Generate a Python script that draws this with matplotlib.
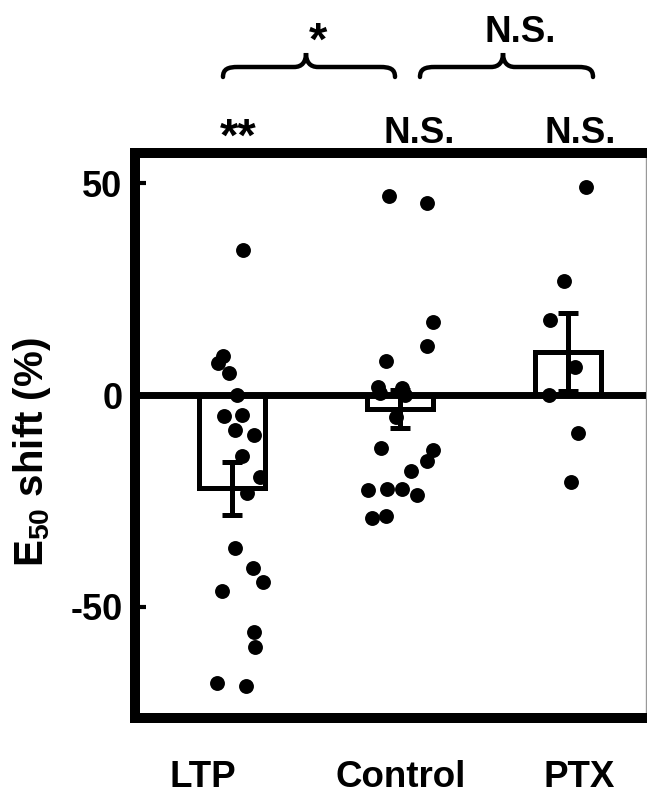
import numpy as np
import matplotlib.pyplot as plt
from matplotlib.path import Path
from matplotlib.patches import PathPatch

plt.rcParams['font.family'] = 'Liberation Sans'
plt.rcParams['font.weight'] = 'bold'
plt.rcParams['axes.unicode_minus'] = False
plt.rcParams['mathtext.fontset'] = 'custom'
plt.rcParams['mathtext.rm'] = 'Liberation Sans:bold'
plt.rcParams['mathtext.bf'] = 'Liberation Sans:bold'
plt.rcParams['mathtext.default'] = 'bf'

# data
groups = ['LTP', 'Control', 'PTX']
bar_mean = [-22.0, -3.3, 10.2]
bar_sem = [6.2, 4.5, 9.2]

ltp_x = [1.065, 0.946, 0.917, 0.982, 1.030, 0.952, 1.060, 1.018, 1.131, 1.060,
         1.167, 1.089, 1.018, 1.125, 1.185, 0.940, 1.131, 1.137, 0.911, 1.083]
ltp_y = [34.2, 9.2, 7.5, 5.2, 0.0, -5.0, -4.8, -8.3, -9.5, -14.4,
         -19.3, -23.0, -36.0, -40.8, -44.0, -46.2, -56.0, -59.4, -67.9, -68.6]

ctl_x = [1.935, 2.161, 2.196, 2.161, 1.917, 1.869, 1.881, 2.012, 2.030, 1.976,
         1.887, 2.196, 2.161, 2.065, 1.810, 1.923, 2.012, 2.101, 1.833, 1.917]
ctl_y = [47.0, 45.3, 17.2, 11.6, 8.0, 1.9, 0.5, 1.6, 0.0, -5.2,
         -12.5, -13.0, -15.6, -17.9, -22.4, -22.2, -22.2, -23.6, -29.0, -28.5]

ptx_x = [3.107, 2.976, 2.893, 3.042, 2.887, 3.060, 3.018]
ptx_y = [49.0, 27.0, 17.7, 6.6, 0.0, -9.0, -20.5]

pair_marks = ['*', 'N.S.']
group_marks = ['**', 'N.S.', 'N.S.']

W, H = 647, 796
fig = plt.figure(figsize=(W / 100, H / 100), dpi=100)
ax = fig.add_axes([135 / W, 1 - 718 / H, (646 - 135) / W, (718 - 153) / H])

xs = np.arange(1, len(groups) + 1)
ax.bar(xs, bar_mean, width=0.39, color='white', edgecolor='black', linewidth=3.6, zorder=2)
ax.errorbar(xs, bar_mean, yerr=bar_sem, fmt='none', ecolor='black',
            elinewidth=3.6, capsize=7, capthick=3.6, zorder=3)
ax.axhline(0, color='black', lw=5, zorder=3)
for px, py in [(ltp_x, ltp_y), (ctl_x, ctl_y), (ptx_x, ptx_y)]:
    ax.scatter(px, py, s=115, c='black', linewidths=0, zorder=4)

ax.set_xlim(0.4226, 3.464)
ax.set_ylim(-76.2, 57.1)
ax.set_xticks([])
ax.set_yticks([-50, 0, 50])
ax.tick_params(axis='y', direction='in', length=8, width=3, pad=9, labelsize=26)
for s in ['left', 'top', 'bottom']:
    ax.spines[s].set_linewidth(7.2)
ax.spines['right'].set_linewidth(1)
ax.spines['right'].set_color('0.6')


def ftext(x, y, s, **kw):
    fig.text(x / W, 1 - y / H, s, ha='center', va='baseline', fontweight='bold', **kw)


# group labels below the axis
for name, lx in zip(groups, [203, 401, 579]):
    ftext(lx, 787, name, fontsize=26.5)

# marks above each group
for m, lx in zip(group_marks, [238, 419, 580]):
    ftext(lx, 151 if m.startswith('*') else 143, m, fontsize=34 if m.startswith('*') else 26.5)

# marks above the braces
ftext(318, 55, pair_marks[0], fontsize=34)
ftext(520, 42, pair_marks[1], fontsize=26.5)


def brace(x0, x1, xc, yb=77, ym=67, yt=53):
    pts = [(x0, yb), (x0, ym + 2), (x0 + 5, ym), (x0 + 15, ym),
           (xc - 12, ym),
           (xc - 4, ym), (xc, ym - 5), (xc, yt),
           (xc, ym - 5), (xc + 4, ym), (xc + 12, ym),
           (x1 - 15, ym),
           (x1 - 5, ym), (x1, ym + 2), (x1, yb)]
    codes = [Path.MOVETO, Path.CURVE4, Path.CURVE4, Path.CURVE4,
             Path.LINETO,
             Path.CURVE4, Path.CURVE4, Path.CURVE4,
             Path.CURVE4, Path.CURVE4, Path.CURVE4,
             Path.LINETO,
             Path.CURVE4, Path.CURVE4, Path.CURVE4]
    verts = [(x / W, 1 - y / H) for x, y in pts]
    fig.patches.append(PathPatch(Path(verts, codes), fill=False, lw=3.2,
                                 color='black', capstyle='round', transform=fig.transFigure))


brace(223, 395, 306)
brace(420, 593, 503)

fig.text(32 / W, 1 - 452 / H, 'E$_{50}$ shift (%)', rotation=90, ha='center', va='center',
         fontsize=29, fontweight='bold')

plt.savefig('out.png', dpi=100)
